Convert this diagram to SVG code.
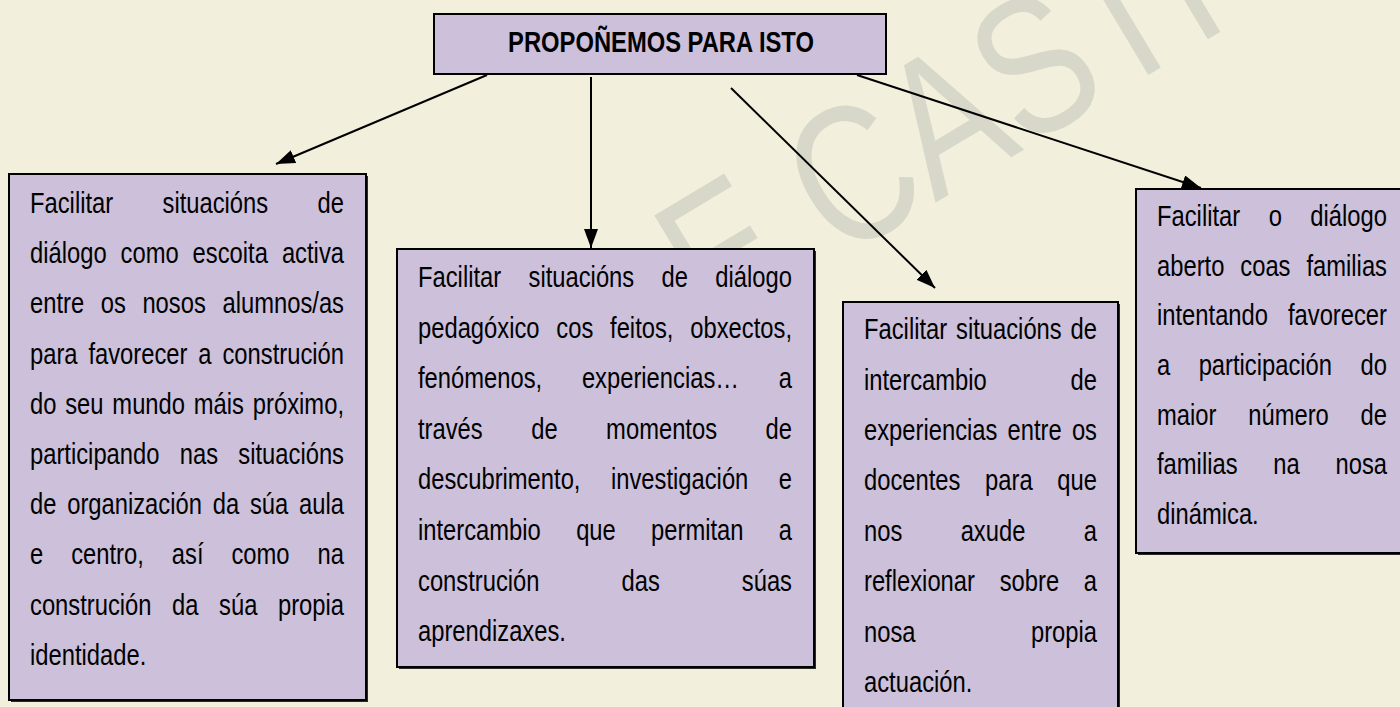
<svg xmlns="http://www.w3.org/2000/svg" width="1400" height="707" viewBox="0 0 1400 707">
<style>
.bg{fill:#F2F0DC}
.box{fill:#CCC0DA;stroke:#000;stroke-width:2}
.sh{fill:#2a2a2a}
.t{font-family:"Liberation Sans",Arial,sans-serif;font-size:29px;fill:#000}
.e{text-anchor:end}
.h{font-weight:bold;text-anchor:middle}
.wm{font-family:"Liberation Sans",Arial,sans-serif;font-size:195px;fill:#D8D8CA}
.conn path{stroke:#000;stroke-width:2;fill:none;marker-end:url(#ah)}
</style>
<defs>
<marker id="ah" markerUnits="userSpaceOnUse" markerWidth="22" markerHeight="16" refX="19" refY="7" orient="auto">
<path d="M0,0 L19,7 L0,14 z" fill="#000"/>
</marker>
</defs>
<rect class="bg" x="0" y="0" width="1400" height="707"/>
<text class="wm" transform="translate(838.8,261) rotate(-31) scale(0.8 1)" x="-184.3">E CASTI</text>

<g id="top">
<rect class="box" x="434" y="14" width="452" height="60"/>
<text class="t h" transform="scale(0.82 1)" x="806.1" y="52">PROPOÑEMOS PARA ISTO</text>
</g>

<g id="box1">
<rect class="sh" x="11" y="176" width="357" height="526"/>
<rect class="box" x="9" y="174" width="357" height="526"/>
<g class="t" transform="scale(0.82 1)">
<text y="213"><tspan x="36.59">Facilitar</tspan><tspan x="198.2">situacións</tspan><tspan x="419.51" class="e">de</tspan></text>
<text y="263.2"><tspan x="36.59">diálogo</tspan><tspan x="147.05">como</tspan><tspan x="234.9">escoita</tspan><tspan x="419.51" class="e">activa</tspan></text>
<text y="313.4"><tspan x="36.59">entre</tspan><tspan x="122.86">os</tspan><tspan x="173.67">nosos</tspan><tspan x="419.51" class="e">alumnos/as</tspan></text>
<text y="363.6"><tspan x="36.59">para</tspan><tspan x="107.81">favorecer</tspan><tspan x="241.88">a</tspan><tspan x="419.51" class="e">construción</tspan></text>
<text y="413.8"><tspan x="36.59">do</tspan><tspan x="79.55">seu</tspan><tspan x="137.01">mundo</tspan><tspan x="236.38">máis</tspan><tspan x="419.51" class="e">próximo,</tspan></text>
<text y="464"><tspan x="36.59">participando</tspan><tspan x="219.18">nas</tspan><tspan x="419.51" class="e">situacións</tspan></text>
<text y="514.2"><tspan x="36.59">de</tspan><tspan x="81.94">organización</tspan><tspan x="259.45">da</tspan><tspan x="304.8">súa</tspan><tspan x="419.51" class="e">aula</tspan></text>
<text y="564.4"><tspan x="36.59">e</tspan><tspan x="86.78">centro,</tspan><tspan x="209.51">así</tspan><tspan x="282.27">como</tspan><tspan x="419.51" class="e">na</tspan></text>
<text y="614.6"><tspan x="36.59">construción</tspan><tspan x="209.89">da</tspan><tspan x="267.17">súa</tspan><tspan x="419.51" class="e">propia</tspan></text>
<text y="664.8" x="36.59">identidade.</text>
</g>
</g>

<g id="box2">
<rect class="sh" x="399" y="251" width="417" height="418"/>
<rect class="box" x="397" y="249" width="417" height="418"/>
<g class="t" transform="scale(0.82 1)">
<text y="287"><tspan x="509.76">Facilitar</tspan><tspan x="644.57">situacións</tspan><tspan x="806.83">de</tspan><tspan x="965.85" class="e">diálogo</tspan></text>
<text y="337.6"><tspan x="509.76">pedagóxico</tspan><tspan x="678.45">cos</tspan><tspan x="743.96">feitos,</tspan><tspan x="965.85" class="e">obxectos,</tspan></text>
<text y="388.2"><tspan x="509.76">fenómenos,</tspan><tspan x="709.62">experiencias…</tspan><tspan x="965.85" class="e">a</tspan></text>
<text y="438.8"><tspan x="509.76">través</tspan><tspan x="647.83">de</tspan><tspan x="739.17">momentos</tspan><tspan x="965.85" class="e">de</tspan></text>
<text y="489.4"><tspan x="509.76">descubrimento,</tspan><tspan x="745.06">investigación</tspan><tspan x="965.85" class="e">e</tspan></text>
<text y="540"><tspan x="509.76">intercambio</tspan><tspan x="702.61">que</tspan><tspan x="793.95">permitan</tspan><tspan x="965.85" class="e">a</tspan></text>
<text y="590.6"><tspan x="509.76">construción</tspan><tspan x="757.95">das</tspan><tspan x="965.85" class="e">súas</tspan></text>
<text y="641.2" x="509.76">aprendizaxes.</text>
</g>
</g>

<g id="box3">
<rect class="sh" x="845" y="304" width="275" height="410"/>
<rect class="box" x="843" y="302" width="275" height="410"/>
<g class="t" transform="scale(0.82 1)">
<text y="339.3"><tspan x="1053.66">Facilitar</tspan><tspan x="1165.89">situacións</tspan><tspan x="1337.8" class="e">de</tspan></text>
<text y="389.7"><tspan x="1053.66">intercambio</tspan><tspan x="1337.8" class="e">de</tspan></text>
<text y="440.1"><tspan x="1053.66">experiencias</tspan><tspan x="1228.76">entre</tspan><tspan x="1337.8" class="e">os</tspan></text>
<text y="490.5"><tspan x="1053.66">docentes</tspan><tspan x="1201.37">para</tspan><tspan x="1337.8" class="e">que</tspan></text>
<text y="540.9"><tspan x="1053.66">nos</tspan><tspan x="1171.55">axude</tspan><tspan x="1337.8" class="e">a</tspan></text>
<text y="591.3"><tspan x="1053.66">reflexionar</tspan><tspan x="1219.09">sobre</tspan><tspan x="1337.8" class="e">a</tspan></text>
<text y="641.7"><tspan x="1053.66">nosa</tspan><tspan x="1337.8" class="e">propia</tspan></text>
<text y="692.1" x="1053.66">actuación.</text>
</g>
</g>

<g id="box4">
<rect class="sh" x="1138" y="191" width="270" height="364"/>
<rect class="box" x="1136" y="189" width="270" height="364"/>
<g class="t" transform="scale(0.82 1)">
<text y="226"><tspan x="1410.98">Facilitar</tspan><tspan x="1547.16">o</tspan><tspan x="1691.46" class="e">diálogo</tspan></text>
<text y="275.7"><tspan x="1410.98">aberto</tspan><tspan x="1512.56">coas</tspan><tspan x="1691.46" class="e">familias</tspan></text>
<text y="325.4"><tspan x="1410.98">intentando</tspan><tspan x="1691.46" class="e">favorecer</tspan></text>
<text y="375.1"><tspan x="1410.98">a</tspan><tspan x="1461.77">participación</tspan><tspan x="1691.46" class="e">do</tspan></text>
<text y="424.8"><tspan x="1410.98">maior</tspan><tspan x="1522.2">número</tspan><tspan x="1691.46" class="e">de</tspan></text>
<text y="474.5"><tspan x="1410.98">familias</tspan><tspan x="1552.8">na</tspan><tspan x="1691.46" class="e">nosa</tspan></text>
<text y="524.2" x="1410.98">dinámica.</text>
</g>
</g>

<g id="connectors" class="conn">
<path d="M487,75 L276,164"/>
<path d="M591,77 L591,248"/>
<path d="M731,88 L935,288"/>
<path d="M857,75 L1201,188"/>
</g>
</svg>
